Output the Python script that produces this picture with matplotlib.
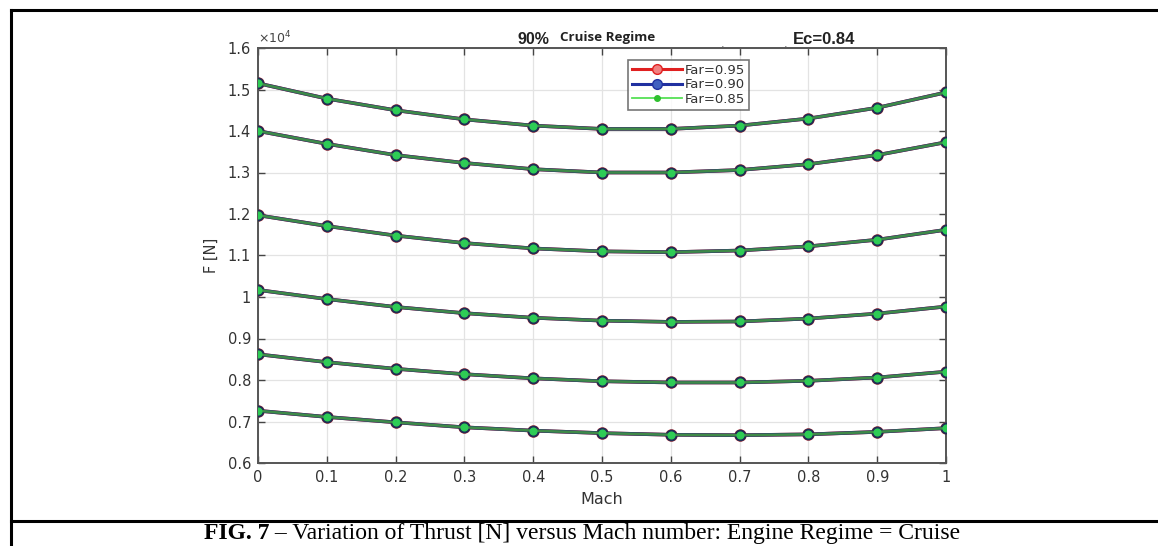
import matplotlib
matplotlib.use('Agg')
import matplotlib.pyplot as plt
from matplotlib.lines import Line2D

# Mach number (x axis)
mach = [0, 0.1, 0.2, 0.3, 0.4, 0.5, 0.6, 0.7, 0.8, 0.9, 1.0]

# thrust curves, in units of 1e4 N (the three Far series lie on top of each other)
curve_1 = [1.515, 1.478, 1.450, 1.428, 1.413, 1.405, 1.405, 1.413, 1.430, 1.456, 1.493]
curve_2 = [1.400, 1.369, 1.342, 1.323, 1.308, 1.300, 1.300, 1.306, 1.320, 1.342, 1.373]
curve_3 = [1.197, 1.171, 1.148, 1.130, 1.117, 1.110, 1.108, 1.112, 1.122, 1.138, 1.162]
curve_4 = [1.017, 0.995, 0.976, 0.961, 0.950, 0.943, 0.940, 0.941, 0.948, 0.960, 0.977]
curve_5 = [0.862, 0.843, 0.827, 0.814, 0.804, 0.797, 0.794, 0.794, 0.798, 0.806, 0.820]
curve_6 = [0.726, 0.711, 0.698, 0.686, 0.678, 0.672, 0.668, 0.667, 0.669, 0.675, 0.684]
curves = [curve_1, curve_2, curve_3, curve_4, curve_5, curve_6]

far_labels = ['Far=0.95', 'Far=0.90', 'Far=0.85']

x_ticks = [0, 0.1, 0.2, 0.3, 0.4, 0.5, 0.6, 0.7, 0.8, 0.9, 1]
x_tick_labels = ['0', '0.1', '0.2', '0.3', '0.4', '0.5', '0.6', '0.7', '0.8', '0.9', '1']
y_ticks = [0.6, 0.7, 0.8, 0.9, 1.0, 1.1, 1.2, 1.3, 1.4, 1.5, 1.6]
y_tick_labels = ['0.6', '0.7', '0.8', '0.9', '1', '1.1', '1.2', '1.3', '1.4', '1.5', '1.6']

W, H = 1158, 546
fig = plt.figure(figsize=(W / 100, H / 100), dpi=100)
fig.patch.set_facecolor('white')

ax = fig.add_axes([258 / W, 1 - 463 / H, (946 - 258) / W, (463 - 48) / H])

for c in curves:
	ax.plot(mach, c, color='#c83030', lw=2.6, marker='o', markersize=8,
			markerfacecolor='#d04040', markeredgecolor='#d04040', zorder=2)
	ax.plot(mach, c, color='#2a3f70', lw=2.6, marker='o', markersize=7.5,
			markerfacecolor='#1e2d55', markeredgecolor='#1e2d55', zorder=3)
	ax.plot(mach, c, color='#3f8a48', lw=1.8, marker='o', markersize=4.8,
			markerfacecolor='#2ecc55', markeredgecolor='#2ecc55', zorder=4)

ax.set_xlim(0, 1)
ax.set_ylim(0.6, 1.6)
ax.set_xticks(x_ticks)
ax.set_xticklabels(x_tick_labels)
ax.set_yticks(y_ticks)
ax.set_yticklabels(y_tick_labels)
ax.tick_params(direction='in', length=5, width=1, colors='#444444', labelcolor='#333333',
			   labelsize=10.5, top=True, right=True, pad=5)
ax.grid(True, color='#e3e3e3', lw=0.9)
ax.set_axisbelow(True)
for s in ax.spines.values():
	s.set_color('#555555')
	s.set_linewidth(1.4)

ax.set_xlabel('Mach', fontsize=11.5, color='#333333', labelpad=5)
ax.set_ylabel('F [N]', fontsize=10.5, color='#333333', labelpad=6)
ax.text(0.0, 1.005, r'$\times10^4$', transform=ax.transAxes, fontsize=9,
		color='#444444', ha='left', va='bottom')

handles = [
	Line2D([], [], color='#e02020', lw=2.2, marker='o', markersize=7,
		   markerfacecolor='#f08080', markeredgecolor='#e02020'),
	Line2D([], [], color='#2030a0', lw=2.2, marker='o', markersize=7,
		   markerfacecolor='#4060c0', markeredgecolor='#2030a0'),
	Line2D([], [], color='#55e055', lw=1.3, marker='o', markersize=4,
		   markerfacecolor='#30c030', markeredgecolor='#30c030'),
]
leg = ax.legend(handles, far_labels, loc='upper left',
				bbox_to_anchor=((628 - 258) / 688, (463 - 60) / 415),
				borderaxespad=0, fontsize=9.5, frameon=True, fancybox=False,
				handlelength=3.8, handletextpad=0.2, borderpad=0.3, labelspacing=0.1)
leg.get_frame().set_edgecolor('#555555')
leg.get_frame().set_linewidth(1.2)
for t in leg.get_texts():
	t.set_color('#333333')

# title pieces
fig.text(533 / W, 1 - 39 / H, '90%', fontsize=11.5, fontweight='bold',
		 family='Liberation Sans', color='#222222', ha='center', va='center')
fig.text(608 / W, 1 - 38 / H, 'Cruise Regime', fontsize=9.6, fontweight='bold',
		 family='Open Sans', color='#222222', ha='center', va='center')
fig.text(723 / W, 1 - 44 / H, '.', fontsize=8, color='#555555', ha='center', va='center')
fig.text(786 / W, 1 - 44 / H, '.', fontsize=8, color='#555555', ha='center', va='center')
fig.text(824 / W, 1 - 40 / H, 'Ec=0.84', fontsize=12, fontweight='bold',
		 family='Liberation Sans', color='#222222', ha='center', va='center')

# outer frame and caption separator
frame_kw = dict(color='black', lw=2.2, transform=fig.transFigure, clip_on=False)
fig.add_artist(Line2D([11 / W, 11 / W], [0, 1 - 10 / H], **frame_kw))
fig.add_artist(Line2D([11 / W, 1], [1 - 10 / H, 1 - 10 / H], **frame_kw))
fig.add_artist(Line2D([11 / W, 1], [1 - 521 / H, 1 - 521 / H], **frame_kw))

# caption: bold figure number followed by plain text, centred as a whole
cap_y = 1 - 533.5 / H
t1 = fig.text(0, cap_y, 'FIG. 7', fontsize=17, fontweight='bold',
			  family='Liberation Serif', ha='left', va='center')
t2 = fig.text(0, cap_y, ' \u2013 Variation of Thrust [N] versus Mach number: Engine Regime = Cruise',
			  fontsize=17, family='Liberation Serif', ha='left', va='center')
fig.canvas.draw()
w1 = t1.get_window_extent().width
w2 = t2.get_window_extent().width
x0 = 582 - (w1 + w2) / 2
t1.set_x(x0 / W)
t2.set_x((x0 + w1) / W)

fig.savefig('out.png', dpi=100)
